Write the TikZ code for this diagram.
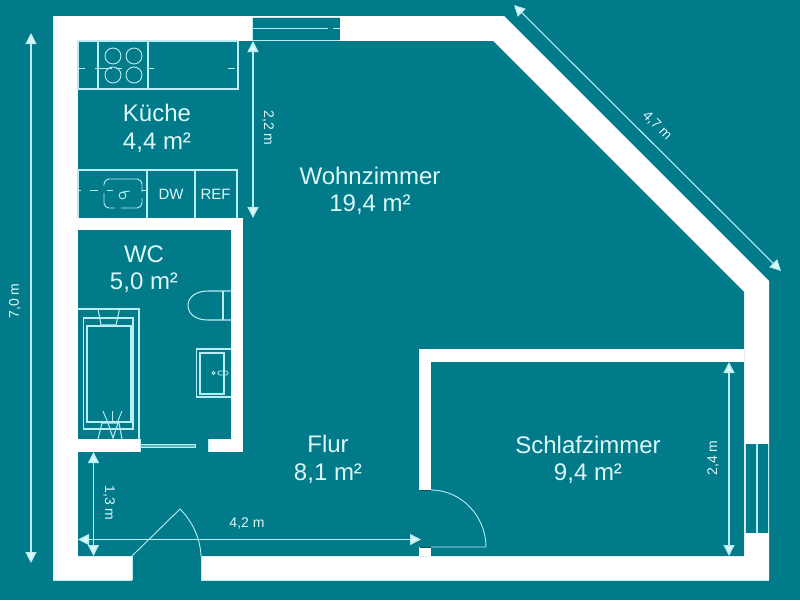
\documentclass[tikz,border=0pt]{standalone}
\usepackage{fontspec}
\setmainfont{Liberation Sans}
\usetikzlibrary{arrows.meta}
\definecolor{teal1}{HTML}{017A8A}
\definecolor{cy}{HTML}{B8EEF2}
\definecolor{txt}{HTML}{DDF8FA}
\tikzset{
  wall/.style={fill=white,draw=none},
  room/.style={fill=teal1,draw=none},
  fix/.style={draw=cy,line width=1.05pt},
  fixthin/.style={draw=cy,line width=0.9pt},
  dim/.style={draw=cy,line width=1.4pt,{Triangle[width=11pt,length=11pt,fill=txt]}-{Triangle[width=11pt,length=11pt,fill=txt]}},
  dimthin/.style={dim,line width=1.1pt},
  bigl/.style={text=txt,font=\fontsize{24}{27.5}\selectfont,align=center,inner sep=0pt},
  diml/.style={text=txt,font=\fontsize{14}{16}\selectfont,inner sep=0pt},
  appl/.style={text=txt,font=\fontsize{15}{16}\selectfont,inner sep=0pt},
}
\begin{document}
\begin{tikzpicture}[x=1pt,y=-1pt]
\useasboundingbox (0,0) rectangle (800,600);
\fill[teal1] (0,0) rectangle (800,600);
% walls
\path[wall] (53,16) -- (504,16) -- (769,281) -- (769,580) -- (53,580) -- cycle;
\path[room] (78,41) -- (493,41) -- (744,292) -- (744,556) -- (78,556) -- cycle;
\path[wall] (78,218) rectangle (243,230);
\path[wall] (231,218) rectangle (243,452);
\path[wall] (78,439) rectangle (140,452);
\path[wall] (208,439) rectangle (243,452);
\path[wall] (419,349) rectangle (744,362);
\path[wall] (419,349) rectangle (431,490);
\path[wall] (419,547) rectangle (431,556);
% openings
\path[room] (132,555) rectangle (201,581);
\path[room] (252,16.5) rectangle (340,40.5);
\path[room] (745,444) rectangle (768.5,533);
\draw[fixthin] (132,556) -- (132,580) (201,556) -- (201,580);
\draw[fixthin] (53,580) -- (132,580) (201,580) -- (769,580);
% top window
\draw[fixthin] (252,17) -- (340,17) (252,28) -- (328,28) (333,28) -- (340,28) (252,40.5) -- (340,40.5) (252,17) -- (252,40.5);
% right window
\draw[fixthin] (745.5,444) -- (745.5,533) (768,444) -- (768,533);
\draw[fix] (757,444) -- (757,533);
% room door
\draw[fixthin] (431,547) -- (486,547) .. controls (486,516) and (461,490) .. (431,490);
\draw[teal1!70!black,line width=0.8pt] (419.5,490) -- (431,490) (419.5,547) -- (431,547);
% entrance door
\draw[fixthin] (132,556) -- (180,509) .. controls (190,519) and (200,535) .. (201,556);
% sliding door
\draw[fixthin,fill=teal1!50!cy] (140,444.5) rectangle (195,447.5);
\draw[fixthin] (140,439) -- (140,452) (208,439) -- (208,452);
% kitchen top counter
\draw[fix] (78,41) -- (78,89) -- (238,89) -- (238,41) (78,41) -- (238,41);
\draw[fix,line width=1.5pt] (98,41) -- (98,89);
\draw[fix] (148,41) -- (148,89);
\foreach \cx/\cy in {113/56,134/56,113/75,134/75} \draw[fixthin] (\cx,\cy) circle[radius=8];
\draw[fixthin] (78,68) -- (85,68) (95,68) -- (112,68) (116,68) -- (122,68) (148,68) -- (154,68) (228,68) -- (235,68);
% kitchen bottom counter
\draw[fix] (78,218) -- (78,170) -- (237,170) -- (237,218);
\draw[fix] (147,170) -- (147,218) (195,170) -- (195,218);
\draw[fixthin,rounded corners=5pt] (104,186) -- (104,179) -- (142,179) -- (142,192) (142,198) -- (142,208) -- (121,208) (115,208) -- (104,208) -- (104,193);
\draw[fixthin] (78,190) -- (81,190) (90,190) -- (98,190) (107,190) -- (113,190) (142,190) -- (147,190);
\draw[fixthin] (122.5,195.5) circle[radius=3.4] (122.5,192) -- (130,191);
\node[appl] (dw) at (171,194) {DW};
\node[appl] (ref) at (215.5,194) {REF};
% bathtub
\draw[fix] (78,309) -- (139,309) -- (139,439);
\draw[fix] (83.5,318) rectangle (133,429);
\draw[fix] (87,326) rectangle (131,422);
\draw[fix] (98,309) -- (101,325) -- (116,325) -- (119.5,309);
\draw[fix] (98,439) -- (102,423) -- (119,423) -- (122,439);
\draw[fix] (108,423) -- (113,438) -- (118,423);
\draw[fixthin] (103,411) -- (108,423) (112.5,411) -- (112.5,421) (122,411) -- (117,423);
% toilet
\draw[fix] (231,291) -- (208,291) .. controls (196,291) and (188,297) .. (188,305.5) .. controls (188,314) and (196,320) .. (208,320) -- (231,320);
\draw[fix] (223,291) -- (223,320);
% WC sink
\draw[fix] (231,349) -- (196.5,349) -- (196.5,397) -- (231,397);
\draw[fix] (200,353) rectangle (224,394);
\draw[fixthin] (213.5,373) circle[radius=1.6];
\draw[fixthin,rounded corners=1.5pt] (218,371) rectangle (228,375);
% room labels
\node[bigl] (kueche) at (157,128.5) {Küche\\4,4 m²};
\node[bigl] (wohn) at (370,191) {Wohnzimmer\\19,4 m²};
\node[bigl] (wc) at (144,269) {WC\\5,0 m²};
\node[bigl] (flur) at (328,459.5) {Flur\\8,1 m²};
\node[bigl] (schlaf) at (588,460) {Schlafzimmer\\9,4 m²};
% dimensions
\coordinate (d1a) at (253,41); \coordinate (d1b) at (253,218);
\draw[dim] (d1a) -- (d1b);
\node[diml,rotate=-90] (l1) at (268,128) {2,2 m};
\coordinate (d2a) at (93.5,452); \coordinate (d2b) at (93.5,556);
\draw[dim] (d2a) -- (d2b);
\node[diml,rotate=-90] (l2) at (109,503) {1,3 m};
\coordinate (d3a) at (78,539.5); \coordinate (d3b) at (421,539.5);
\draw[dim] (d3a) -- (d3b);
\node[diml] (l3) at (247,523) {4,2 m};
\coordinate (d4a) at (729,362); \coordinate (d4b) at (729,556);
\draw[dim] (d4a) -- (d4b);
\node[diml,rotate=90] (l4) at (713,458) {2,4 m};
\coordinate (d5a) at (31,33); \coordinate (d5b) at (31,563);
\draw[dimthin] (d5a) -- (d5b);
\node[diml,rotate=90] (l5) at (15,301) {7,0 m};
\coordinate (d6a) at (514,5); \coordinate (d6b) at (781,271);
\draw[dimthin] (d6a) -- (d6b);
\node[diml,rotate=-45] (l6) at (657,126) {4,7 m};
\end{tikzpicture}
\end{document}
